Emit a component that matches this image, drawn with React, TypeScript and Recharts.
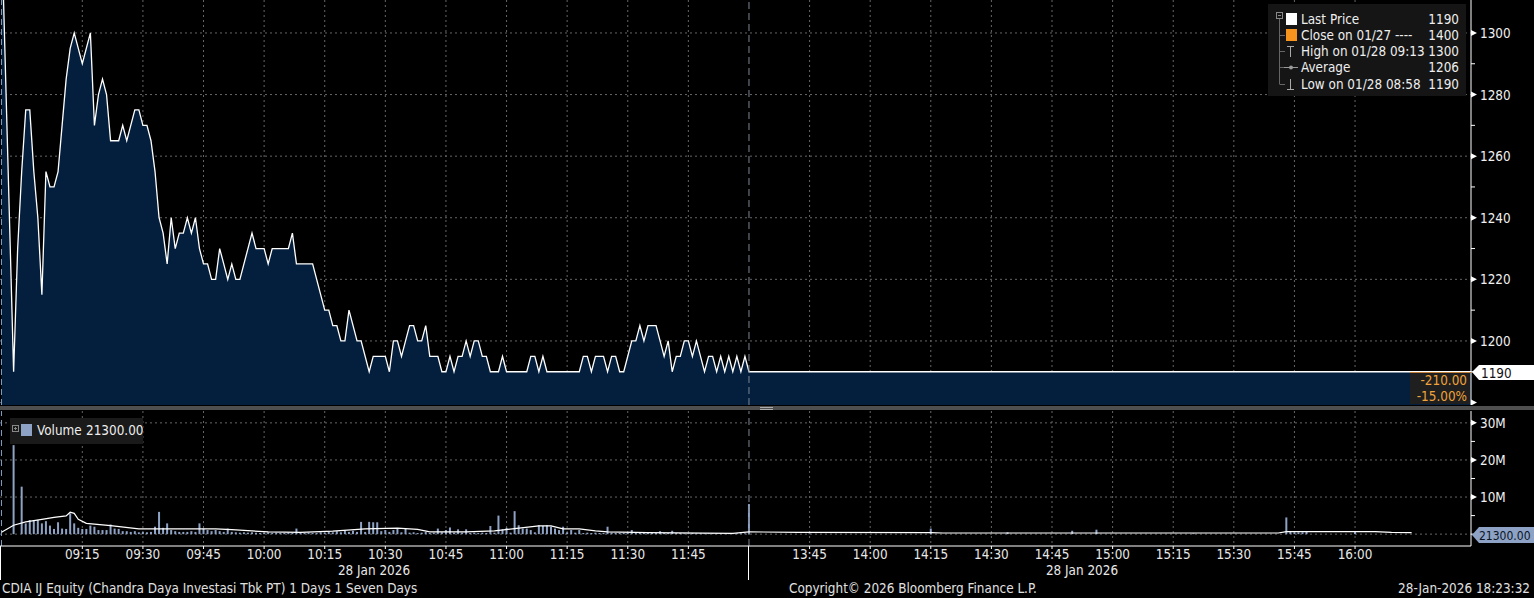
import React from "react";
import {
  ComposedChart,
  Area,
  Bar,
  Line,
  XAxis,
  YAxis,
  CartesianGrid,
  ReferenceLine,
} from "recharts";

const FONT = "'DejaVu Sans Condensed', 'DejaVu Sans', sans-serif";
const FS = 13.4;

// last price, 1 minute bars (only the vertices, flat runs are joined by the line)
const PRICE: [string, number][] = [
  ["08:55", 1335], ["08:58", 1190], ["08:59", 1230], ["09:00", 1255], ["09:01", 1275],
  ["09:02", 1275], ["09:03", 1255], ["09:04", 1240], ["09:05", 1215], ["09:06", 1255],
  ["09:07", 1250], ["09:08", 1250], ["09:09", 1255], ["09:10", 1270], ["09:11", 1285],
  ["09:12", 1295], ["09:13", 1300], ["09:15", 1290], ["09:17", 1300], ["09:18", 1270],
  ["09:19", 1280], ["09:20", 1285], ["09:21", 1280], ["09:22", 1265], ["09:24", 1265],
  ["09:25", 1270], ["09:26", 1265], ["09:28", 1275], ["09:29", 1275], ["09:30", 1270],
  ["09:31", 1270], ["09:32", 1265], ["09:33", 1255], ["09:34", 1240], ["09:35", 1235],
  ["09:36", 1225], ["09:37", 1240], ["09:38", 1230], ["09:39", 1235], ["09:40", 1235],
  ["09:41", 1240], ["09:42", 1235], ["09:43", 1240], ["09:44", 1230], ["09:45", 1225],
  ["09:46", 1225], ["09:47", 1220], ["09:48", 1220], ["09:49", 1230], ["09:50", 1225],
  ["09:51", 1220], ["09:52", 1225], ["09:53", 1220], ["09:54", 1220], ["09:57", 1235],
  ["09:58", 1230], ["10:00", 1230], ["10:01", 1225], ["10:02", 1230], ["10:06", 1230],
  ["10:07", 1235], ["10:08", 1225], ["10:12", 1225], ["10:15", 1210], ["10:16", 1210],
  ["10:17", 1205], ["10:18", 1205], ["10:19", 1200], ["10:20", 1200], ["10:21", 1210],
  ["10:23", 1200], ["10:24", 1200], ["10:26", 1190], ["10:27", 1195], ["10:30", 1195],
  ["10:31", 1190], ["10:32", 1200], ["10:33", 1200], ["10:34", 1195], ["10:35", 1200],
  ["10:36", 1205], ["10:37", 1205], ["10:38", 1200], ["10:39", 1200], ["10:40", 1205],
  ["10:41", 1195], ["10:43", 1195], ["10:44", 1190], ["10:45", 1190], ["10:46", 1195],
  ["10:47", 1190], ["10:48", 1195], ["10:49", 1195], ["10:50", 1200], ["10:51", 1195],
  ["10:52", 1200], ["10:53", 1200], ["10:54", 1195], ["10:55", 1195], ["10:56", 1190],
  ["10:58", 1190], ["10:59", 1195], ["11:00", 1190], ["11:05", 1190], ["11:06", 1195],
  ["11:07", 1195], ["11:08", 1190], ["11:09", 1195], ["11:10", 1190], ["11:18", 1190],
  ["11:19", 1195], ["11:20", 1195], ["11:21", 1190], ["11:22", 1195], ["11:24", 1195],
  ["11:25", 1190], ["11:26", 1195], ["11:27", 1195], ["11:28", 1190], ["11:29", 1190],
  ["11:31", 1200], ["11:32", 1200], ["11:33", 1205], ["11:34", 1200], ["11:35", 1205],
  ["11:37", 1205], ["11:38", 1200], ["11:39", 1195], ["11:40", 1200], ["11:41", 1190],
  ["11:42", 1195], ["11:43", 1195], ["11:44", 1200], ["11:45", 1200], ["11:46", 1195],
  ["11:47", 1200], ["11:49", 1190], ["11:50", 1195], ["11:51", 1195], ["11:52", 1190],
  ["11:53", 1195], ["11:54", 1190], ["11:55", 1195], ["11:56", 1190], ["11:57", 1195],
  ["11:58", 1190], ["11:59", 1195], ["12:00", 1190], ["16:29", 1190],
];

// volume in millions, one value per minute from 08:58 to 12:00
const VOLUME_AM_START = "08:58";
const VOLUME_AM: number[] = [
  24.0, 0, 12.8, 2.9, 3.8, 3.8, 3.8, 2.9, 3.5, 2.3,
  1.4, 3.2, 1.5, 1.4, 5.6, 2.9, 1.7, 1.4, 1.4, 2.3,
  2.0, 1.1, 1.1, 1.1, 2.6, 1.5, 1.4, 0.8, 0.8, 0.6,
  0.8, 0.5, 0.6, 0.5, 0.6, 2.0, 6.0, 1.7, 2.9, 1.1,
  0.8, 0.6, 0.6, 0.6, 0.8, 0.6, 2.9, 1.5, 1.1, 0.8,
  1.1, 0.8, 0.6, 1.5, 0.6, 0.5, 0.4, 0.5, 0.4, 0.5,
  0.4, 0.3, 0.4, 0.5, 0.3, 0.4, 0.3, 0.3, 0.4, 0.3,
  1.5, 0.3, 0.3, 0.4, 0.3, 0.3, 0.5, 0.4, 0.7, 0.5,
  0.8, 0.5, 1.0, 0.6, 0.9, 0.6, 3.3, 0.6, 3.3, 3.2,
  3.2, 0.8, 1.1, 0.6, 1.1, 1.5, 0.5, 1.5, 0.4, 0.5,
  0.3, 0.4, 0.6, 0.3, 0.4, 1.5, 0.5, 1.1, 1.8, 0.4,
  1.3, 0.4, 1.3, 0.3, 0.4, 0.3, 0.4, 0.3, 2.2, 0.4,
  5.0, 1.3, 1.7, 0.4, 6.2, 2.4, 1.5, 1.5, 1.1, 0.5,
  2.4, 2.2, 2.4, 2.0, 1.5, 1.1, 2.0, 0.5, 1.1, 0.4,
  1.1, 0.3, 0.4, 0.3, 0.4, 0.3, 0.3, 2.0, 0.4, 0.3,
  0.3, 0.3, 0.4, 1.1, 0.3, 0.3, 0.3, 0.3, 0.3, 0.3,
  0.8, 0.3, 0.3, 0.9, 0.3, 0.3, 0.2, 0.2, 0.3, 0.2,
  0.2, 0.2, 0.2, 0.2, 0.2, 0.2, 0.2, 0.3, 0.2, 0.2,
  0.2, 0.2, 8.1,
];

// afternoon session: only the visible bars
const VOLUME_PM: [string, number][] = [
  ["13:45", 0.2], ["14:15", 1.5], ["14:34", 0.5], ["14:50", 0.9], ["14:56", 1.2],
  ["15:20", 0.2], ["15:43", 4.5], ["15:44", 0.6], ["15:45", 0.5], ["15:46", 0.5],
  ["15:47", 0.5], ["15:48", 0.8], ["16:00", 0.8],
];

// white volume average line
const VOLUME_AVG: [string, number][] = [
  ["08:55", 0.5], ["08:58", 2.4], ["09:01", 3.3], ["09:05", 4.0], ["09:08", 4.5],
  ["09:11", 4.9], ["09:12", 5.9], ["09:13", 5.6], ["09:14", 4.0], ["09:16", 2.9],
  ["09:22", 2.3], ["09:29", 1.4], ["09:48", 1.4], ["09:52", 1.2], ["10:01", 0.6],
  ["10:09", 0.45], ["10:17", 0.8], ["10:25", 1.4], ["10:33", 1.6], ["10:38", 1.3],
  ["10:41", 0.6], ["10:50", 0.6], ["10:57", 0.9], ["11:02", 1.5], ["11:08", 2.2],
  ["11:11", 2.2], ["11:14", 1.4], ["11:18", 1.4], ["11:22", 0.9], ["11:25", 0.6],
  ["11:35", 0.4], ["11:56", 0.2], ["12:00", 0.6], ["13:42", 0.5], ["14:15", 0.4],
  ["14:18", 0.3], ["15:41", 0.3], ["15:43", 0.7], ["16:05", 0.7], ["16:09", 0.5],
  ["16:14", 0.4],
];

const TIME_TICKS = [
  "09:15", "09:30", "09:45", "10:00", "10:15", "10:30", "10:45", "11:00", "11:15",
  "11:30", "11:45", "13:45", "14:00", "14:15", "14:30", "14:45", "15:00", "15:15",
  "15:30", "15:45", "16:00",
];
const PRICE_TICKS = [1180, 1190, 1200, 1210, 1220, 1230, 1240, 1250, 1260, 1270, 1280, 1290, 1300];
const PRICE_LABELS = [1200, 1220, 1240, 1260, 1280, 1300];
const VOL_TICKS = [0, 5, 10, 15, 20, 25, 30];
const VOL_LABELS = [10, 20, 30];

// minutes on a session axis: the lunch break 12:00-13:30 is cut out
function toIdx(t: string) {
  const [h, m] = t.split(":").map(Number);
  const mins = h * 60 + m;
  return mins <= 720 ? mins - 535 : mins - 810 + 185;
}
function idxToTime(i: number) {
  const mins = i <= 185 ? i + 535 : i - 185 + 810;
  const h = Math.floor(mins / 60);
  const m = mins % 60;
  return `${String(h).padStart(2, "0")}:${String(m).padStart(2, "0")}`;
}

const X_DOMAIN: [number, number] = [-0.37, 363.7];
const BREAK = toIdx("12:00");

const priceData = PRICE.map(([t, p]) => ({ t: toIdx(t), price: p }));

const volRows: { t: number; vol?: number; avg?: number }[] = [];
const amStart = toIdx(VOLUME_AM_START);
VOLUME_AM.forEach((v, i) => volRows.push({ t: amStart + i, vol: v }));
VOLUME_PM.forEach(([t, v]) => volRows.push({ t: toIdx(t), vol: v }));
VOLUME_AVG.forEach(([t, v]) => volRows.push({ t: toIdx(t), avg: v }));
volRows.sort((a, b) => a.t - b.t);

function AxisTick({ x, y, payload, labels, fmt }: any) {
  const v = payload.value;
  if (labels.includes(v)) {
    return (
      <g>
        <polygon points={`${x},${y - 3} ${x + 6},${y} ${x},${y + 3}`} fill="#fff" />
        <text x={x + 9} y={y + 5} fill="#f0f0f0" fontSize={FS} fontFamily={FONT}>
          {fmt(v)}
        </text>
      </g>
    );
  }
  if (v === 1180) {
    return <polygon points={`${x},${y - 3} ${x + 6},${y} ${x},${y + 3}`} fill="#fff" />;
  }
  return <line x1={x} x2={x + 4} y1={y} y2={y} stroke="#fff" />;
}

function TimeTick({ x, y, payload }: any) {
  return (
    <text x={x} y={y + 10} textAnchor="middle" fill="#e8e8e8" fontSize={FS} fontFamily={FONT}>
      {idxToTime(payload.value)}
    </text>
  );
}

const GRID = "#666";

function PriceLegend() {
  const rows = [
    { label: "Last Price", value: "1190" },
    { label: "Close on 01/27 ----", value: "1400" },
    { label: "High on 01/28 09:13", value: "1300" },
    { label: "Average", value: "1206" },
    { label: "Low on 01/28 08:58", value: "1190" },
  ];
  const ys = [15, 31, 47, 63, 80];
  return (
    <svg
      width={198}
      height={92}
      style={{ position: "absolute", left: 1268, top: 4, background: "#151515" }}
    >
      <rect x={8.5} y={8.5} width={6} height={6} fill="none" stroke="#888" />
      <line x1={10} x2={13} y1={11.5} y2={11.5} stroke="#888" />
      <line x1={11.5} x2={11.5} y1={15} y2={80} stroke="#666" />
      {ys.slice(1).map((y) => (
        <line key={y} x1={11.5} x2={17} y1={y + 0.5} y2={y + 0.5} stroke="#666" />
      ))}
      <rect x={18} y={9} width={11} height={12} fill="#fff" />
      <rect x={18} y={25} width={11} height={12} fill="#f7941d" />
      <line x1={19} x2={26} y1={42.5} y2={42.5} stroke="#aaa" />
      <line x1={22.5} x2={22.5} y1={42} y2={53} stroke="#aaa" />
      <line x1={16} x2={30} y1={63.5} y2={63.5} stroke="#999" />
      <circle cx={23} cy={63.5} r={2} fill="#999" />
      <line x1={22.5} x2={22.5} y1={75} y2={86} stroke="#aaa" />
      <line x1={19} x2={26} y1={85.5} y2={85.5} stroke="#aaa" />
      {rows.map((r, i) => (
        <g key={r.label} fontFamily={FONT} fontSize={FS} fill="#eee">
          <text x={33} y={ys[i] + 5}>{r.label}</text>
          <text x={191} y={ys[i] + 5} textAnchor="end">{r.value}</text>
        </g>
      ))}
    </svg>
  );
}

export default function App() {
  return (
    <div
      style={{
        position: "relative",
        width: 1534,
        height: 598,
        background: "#000",
        overflow: "hidden",
        fontFamily: FONT,
      }}
    >
      <style>{"body{margin:0;background:#000}"}</style>

      {/* price panel */}
      <div style={{ position: "absolute", left: 0, top: 0 }}>
        <ComposedChart width={1534} height={405} data={priceData} margin={{ top: 0, right: 0, bottom: 0, left: 0 }}>
          <CartesianGrid
            stroke={GRID}
            strokeDasharray="2 3"
            horizontalValues={[1180, 1200, 1220, 1240, 1260, 1280, 1300]}
            verticalValues={TIME_TICKS.map(toIdx)}
          />
          <XAxis dataKey="t" type="number" domain={X_DOMAIN} allowDataOverflow hide />
          <YAxis
            orientation="right"
            width={63}
            domain={[1179.2, 1310.7]}
            allowDataOverflow
            ticks={PRICE_TICKS}
            interval={0}
            tickSize={0}
            tickMargin={0}
            axisLine={{ stroke: "#fff" }}
            tickLine={false}
            tick={<AxisTick labels={PRICE_LABELS} fmt={(v: number) => String(v)} />}
          />
          <ReferenceLine x={0} stroke="#7f9cc0" strokeDasharray="6 4" />
          <Area
            type="linear"
            dataKey="price"
            stroke="#fff"
            strokeWidth={1.3}
            fill="#041f3d"
            fillOpacity={1}
            baseValue={1179.2}
            dot={false}
            activeDot={false}
            isAnimationActive={false}
          />
          <ReferenceLine x={BREAK} stroke="#7d8795" strokeDasharray="7 4" />
        </ComposedChart>
      </div>

      <PriceLegend />

      {/* last price tag and change box */}
      <div
        style={{
          position: "absolute", left: 1410, top: 373, width: 60, height: 31,
          background: "#1f1f1f", color: "#f0a33a", fontSize: FS, textAlign: "right",
          lineHeight: "16px", paddingRight: 3, boxSizing: "border-box",
        }}
      >
        <div>-210.00</div>
        <div>-15.00%</div>
      </div>
      <div style={{ position: "absolute", left: 1410, top: 371.5, width: 61, height: 1, background: "#c0803a" }} />
      <svg width={63} height={25} style={{ position: "absolute", left: 1471, top: 360 }}>
        <polygon points="1,12 8,5 63,5 63,20 8,20" fill="#fff" />
        <text x={10} y={17.5} fontSize={FS} fontFamily={FONT} fill="#111">1190</text>
      </svg>

      {/* divider */}
      <div style={{ position: "absolute", left: 0, top: 406, width: 1534, height: 4, background: "#4f4f4f" }} />
      <div style={{ position: "absolute", left: 760, top: 407, width: 13, height: 1, background: "#aaa" }} />
      <div style={{ position: "absolute", left: 760, top: 409, width: 13, height: 1, background: "#aaa" }} />

      {/* volume panel */}
      <div style={{ position: "absolute", left: 0, top: 411 }}>
        <ComposedChart width={1534} height={187} data={volRows} margin={{ top: 0, right: 0, bottom: 0, left: 0 }}>
          <CartesianGrid
            stroke={GRID}
            strokeDasharray="2 3"
            horizontalValues={[0, 10, 20, 30]}
            verticalValues={TIME_TICKS.map(toIdx)}
          />
          <XAxis
            dataKey="t"
            type="number"
            domain={X_DOMAIN}
            allowDataOverflow
            ticks={TIME_TICKS.map(toIdx)}
            interval={0}
            height={52}
            tickSize={3}
            tickMargin={0}
            axisLine={{ stroke: "#fff" }}
            tickLine={{ stroke: "#fff" }}
            tick={<TimeTick />}
          />
          <YAxis
            orientation="right"
            width={63}
            domain={[-3.2, 33.2]}
            allowDataOverflow
            ticks={VOL_TICKS}
            interval={0}
            tickSize={0}
            tickMargin={0}
            axisLine={{ stroke: "#fff" }}
            tickLine={false}
            tick={<AxisTick labels={VOL_LABELS} fmt={(v: number) => `${v}M`} />}
          />
          <ReferenceLine x={0} stroke="#7f9cc0" strokeDasharray="6 4" />
          <ReferenceLine x={BREAK} stroke="#7d8795" strokeDasharray="7 4" />
          <Bar dataKey="vol" barSize={2} fill="#8da2c4" isAnimationActive={false} />
          <Line
            type="linear"
            dataKey="avg"
            stroke="#fff"
            strokeWidth={1.2}
            dot={false}
            activeDot={false}
            connectNulls
            isAnimationActive={false}
          />
        </ComposedChart>
      </div>

      {/* volume legend */}
      <svg width={133} height={26} style={{ position: "absolute", left: 10, top: 418, background: "#1a1a1a" }}>
        <rect x={2.5} y={7.5} width={6} height={6} fill="none" stroke="#888" />
        <line x1={4} x2={7} y1={10.5} y2={10.5} stroke="#888" />
        <line x1={5.5} x2={5.5} y1={9} y2={12} stroke="#888" />
        <rect x={11} y={6} width={11} height={12} fill="#8da2c4" />
        <text x={27} y={17} fontSize={FS} fontFamily={FONT} fill="#eee">Volume</text>
        <text x={76} y={17} fontSize={FS} fontFamily={FONT} fill="#eee">21300.00</text>
      </svg>
      <svg width={63} height={20} style={{ position: "absolute", left: 1471, top: 525 }}>
        <polygon points="1,10 8,2 63,2 63,18 8,18" fill="#8da2c4" />
        <text x={8} y={14.5} fontSize={12} fontFamily={FONT} fill="#0b1424">21300.00</text>
      </svg>

      {/* session separators below the axis */}
      <div style={{ position: "absolute", left: 0, top: 546, width: 1, height: 34, background: "#fff" }} />
      <div style={{ position: "absolute", left: 748, top: 546, width: 1, height: 34, background: "#fff" }} />

      <div style={{ position: "absolute", left: 314, top: 563, width: 120, textAlign: "center", color: "#e8e8e8", fontSize: FS }}>
        28 Jan 2026
      </div>
      <div style={{ position: "absolute", left: 1022, top: 563, width: 120, textAlign: "center", color: "#e8e8e8", fontSize: FS }}>
        28 Jan 2026
      </div>

      {/* footer */}
      <div style={{ position: "absolute", left: 2, top: 581, color: "#e0e0e0", fontSize: FS }}>
        CDIA IJ Equity (Chandra Daya Investasi Tbk PT) 1 Days 1 Seven Days
      </div>
      <div style={{ position: "absolute", left: 789, top: 581, color: "#e0e0e0", fontSize: FS }}>
        Copyright© 2026 Bloomberg Finance L.P.
      </div>
      <div style={{ position: "absolute", right: 4, top: 581, color: "#e0e0e0", fontSize: FS }}>
        28-Jan-2026 18:23:32
      </div>
    </div>
  );
}
